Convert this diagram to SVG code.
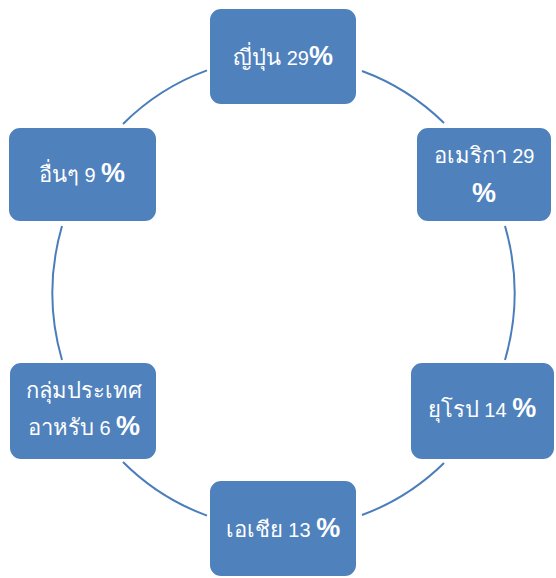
<svg xmlns="http://www.w3.org/2000/svg" width="556" height="578" viewBox="0 0 556 578">
<style>
.box{fill:#4f81bd;stroke:#ffffff;stroke-width:2}
.arc{fill:none;stroke:#4a7ebb;stroke-width:2}
.t{fill:#ffffff;font-family:"Liberation Sans","Noto Sans",sans-serif;font-size:20px;text-anchor:middle}
.th{font-size:22px}
.p{font-size:27px;font-weight:bold}
</style>
<rect width="556" height="578" fill="#ffffff"/>
<g id="connectors">
<path class="arc" d="M362,71 A231,236 0 0 1 444,123"/>
<path class="arc" d="M505,226 A231,236 0 0 1 505,360"/>
<path class="arc" d="M444,463 A231,236 0 0 1 362,515"/>
<path class="arc" d="M207,515.6 A231,236 0 0 1 123,462"/>
<path class="arc" d="M62,360 A231,236 0 0 1 62,226"/>
<path class="arc" d="M123,124 A231,236 0 0 1 207,70.4"/>
</g>
<g id="node-japan">
<rect class="box" x="209" y="8" width="148" height="97" rx="12"/>
<text class="t" x="283" y="65"><tspan class="th">ญี่ปุ่น</tspan> 29<tspan class="p">%</tspan></text>
</g>
<g id="node-america">
<rect class="box" x="416" y="127" width="136" height="95" rx="12"/>
<text class="t" x="484" y="163"><tspan class="th">อเมริกา</tspan> 29</text>
<text class="t" x="484" y="202"><tspan class="p">%</tspan></text>
</g>
<g id="node-europe">
<rect class="box" x="410" y="362" width="145" height="98" rx="12"/>
<text class="t" x="482" y="417"><tspan class="th">ยุโรป</tspan> 14 <tspan class="p">%</tspan></text>
</g>
<g id="node-asia">
<rect class="box" x="209" y="480" width="148" height="97" rx="12"/>
<text class="t" x="283" y="537"><tspan class="th">เอเชีย</tspan> 13 <tspan class="p">%</tspan></text>
</g>
<g id="node-arab">
<rect class="box" x="9" y="362" width="148" height="98" rx="12"/>
<text class="t" x="84" y="398"><tspan class="th">กลุ่มประเทศ</tspan></text>
<text class="t" x="84" y="435"><tspan class="th">อาหรับ</tspan> 6 <tspan class="p">%</tspan></text>
</g>
<g id="node-other">
<rect class="box" x="8" y="127" width="149" height="95" rx="12"/>
<text class="t" x="82" y="182"><tspan class="th">อื่นๆ</tspan> 9 <tspan class="p">%</tspan></text>
</g>
</svg>
